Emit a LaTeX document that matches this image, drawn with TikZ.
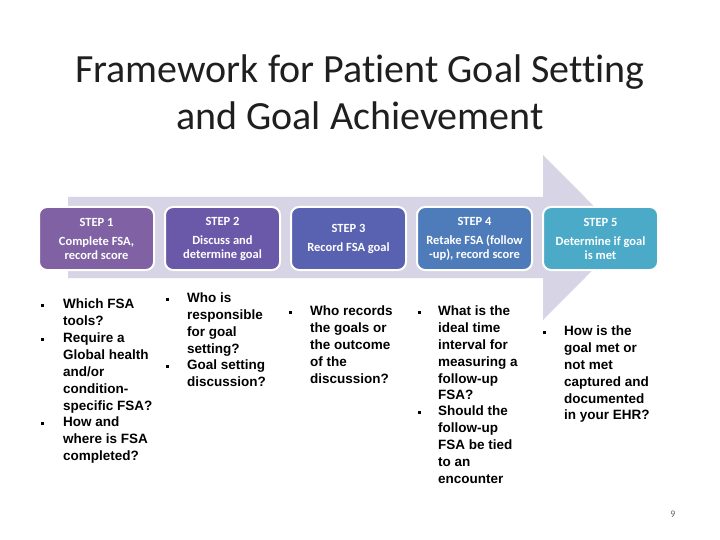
\documentclass[tikz,border=0pt]{standalone}
\usepackage{fontspec}
\setmainfont{Carlito}[Ligatures={NoCommon,NoRequired,NoContextual}]
\newfontfamily\arialfont{Liberation Sans}
\usetikzlibrary{positioning}
\definecolor{bandcol}{RGB}{214,212,229}
\definecolor{stepA}{RGB}{128,98,164}
\definecolor{stepB}{RGB}{106,88,168}
\definecolor{stepC}{RGB}{88,98,176}
\definecolor{stepD}{RGB}{78,124,186}
\definecolor{stepE}{RGB}{74,170,200}
\tikzset{stepbox/.style = {draw=white, line width=2, rounded corners=8, minimum width=115, minimum height=63,
    align=center, text=white, font=\fontsize{12.5}{14}\selectfont\bfseries, inner sep=0},
  qtext/.style = {anchor=north west, align=left, inner sep=0, font=\fontsize{13.5}{16.8}\selectfont\arialfont\bfseries},
  bul/.style = {fill, rectangle, inner sep=0, minimum size=3}}

\begin{document}
\begin{tikzpicture}[x=1pt, y=-1pt]
    \useasboundingbox [fill=white] (0, 0) rectangle (720, 540);

    % title
    \node [font=\fontsize{40}{47}\selectfont, text=black!88, align=center] (title) at (360, 92)
      {Framework for Patient Goal Setting\\and Goal Achievement};

    % big arrow behind the steps
    \fill [bandcol] (68, 197) -- (543, 197) -- (543, 155) -- (625, 237.5) -- (543, 320) -- (543, 278) -- (68, 278) -- cycle;

    \node [stepbox, fill=stepA] (step1) at (96.5, 238.5) {STEP 1\\[5pt]Complete FSA,\\record score};
    \node [stepbox, fill=stepB, right=9pt of step1] (step2) {STEP 2\\[5pt]Discuss and\\determine goal};
    \node [stepbox, fill=stepC, right=9pt of step2] (step3) {STEP 3\\[5pt]Record FSA goal};
    \node [stepbox, fill=stepD, right=9pt of step3] (step4) {STEP 4\\[5pt]Retake FSA (follow\\-up), record score};
    \node [stepbox, fill=stepE, right=9pt of step4] (step5) {STEP 5\\[5pt]Determine if goal\\is met};

    % questions under each step
    \node [qtext] (q1a) at (63, 299) {Which FSA\\tools?};
    \node [qtext] (q1b) at (63, 333) {Require a\\Global health\\and/or\\condition-\\specific FSA?};
    \node [qtext] (q1c) at (63, 417) {How and\\where is FSA\\completed?};
    \foreach \y in {305, 339, 423} {
      \node [bul] at (42, \y) {};
    }

    \node [qtext] (q2a) at (187, 293) {Who is\\responsible\\for goal\\setting?};
    \node [qtext] (q2b) at (187, 360) {Goal setting\\discussion?};
    \foreach \y in {299, 366} {
      \node [bul] at (167, \y) {};
    }

    \node [qtext] (q3a) at (310, 306) {Who records\\the goals or\\the outcome\\of the\\discussion?};
    \node [bul] at (290, 312) {};

    \node [qtext] (q4a) at (438, 306) {What is the\\ideal time\\interval for\\measuring a\\follow-up\\FSA?};
    \node [qtext] (q4b) at (438, 406) {Should the\\follow-up\\FSA be tied\\to an\\encounter};
    \foreach \y in {312, 412} {
      \node [bul] at (419, \y) {};
    }

    \node [qtext] (q5a) at (564, 326) {How is the\\goal met or\\not met\\captured and\\documented\\in your EHR?};
    \node [bul] at (544, 332) {};

    \node [font=\fontsize{10}{12}\selectfont, text=black!60] (pagenum) at (673, 514) {9};
  \end{tikzpicture}
\end{document}
